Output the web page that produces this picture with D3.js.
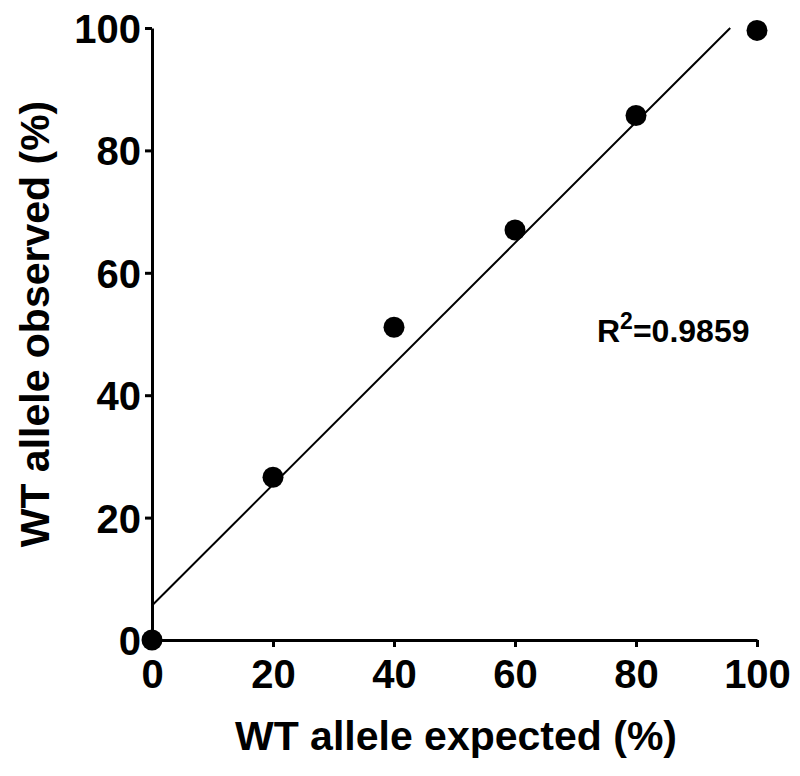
<!DOCTYPE html>
<html>
<head>
<meta charset="utf-8">
<script src="https://cdn.jsdelivr.net/npm/d3@7"></script>
<style>
  html, body { margin: 0; padding: 0; background: #fff; }
  svg { display: block; }
  text { font-family: "Liberation Sans", Arial, sans-serif; font-weight: bold; fill: #000; }
</style>
</head>
<body>
<script>
// Data
const expected = [0, 20, 40, 60, 80, 100];
const observed = [0, 26.6, 51.1, 67.0, 85.7, 99.6];
const xTicks = [0, 20, 40, 60, 80, 100];
const yTicks = [0, 20, 40, 60, 80, 100];
const xTitle = "WT allele expected (%)";
const yTitle = "WT allele observed (%)";
const r2Label = "0.9859";

const W = 800, H = 776;
const m = { left: 152, right: 43, top: 28, bottom: 136 };

const svg = d3.select("body").append("svg").attr("width", W).attr("height", H);

const x = d3.scaleLinear().domain([0, 100]).range([m.left, W - m.right]);
const y = d3.scaleLinear().domain([0, 100]).range([H - m.bottom, m.top]);

// Least-squares fit line, clipped at y = 100
const n = expected.length;
const mx = d3.mean(expected), my = d3.mean(observed);
let sxy = 0, sxx = 0;
for (let i = 0; i < n; i++) { sxy += (expected[i] - mx) * (observed[i] - my); sxx += (expected[i] - mx) ** 2; }
const slope = sxy / sxx, intercept = my - slope * mx;
const xEnd = Math.min(100, (100 - intercept) / slope);

// Axes
const xAxis = d3.axisBottom(x).tickValues(xTicks).tickSize(7).tickSizeOuter(0).tickPadding(10);
const yAxis = d3.axisLeft(y).tickValues(yTicks).tickSize(7).tickSizeOuter(0).tickPadding(4);

const gx = svg.append("g").attr("transform", `translate(0,${y(0)})`).call(xAxis);
const gy = svg.append("g").attr("transform", `translate(${x(0)},0)`).call(yAxis);

[gx, gy].forEach(g => {
  g.select(".domain").attr("stroke", "#000").attr("stroke-width", 3);
  g.selectAll(".tick line").attr("stroke", "#000").attr("stroke-width", 3);
  g.selectAll(".tick text").style("font-size", "40px").attr("fill", "#000")
    .style("font-family", "'Liberation Sans', Arial, sans-serif").style("font-weight", "bold");
});
gx.selectAll(".tick text").attr("dy", "0.78em");
gy.selectAll(".tick text").attr("dy", "0.36em");

// Fit line
svg.append("line")
  .attr("x1", x(0)).attr("y1", y(intercept))
  .attr("x2", x(xEnd)).attr("y2", y(intercept + slope * xEnd))
  .attr("stroke", "#000").attr("stroke-width", 2);

// Points
svg.append("g").selectAll("circle")
  .data(expected.map((e, i) => [e, observed[i]]))
  .join("circle")
  .attr("cx", d => x(d[0])).attr("cy", d => y(d[1]))
  .attr("r", 10.5).attr("fill", "#000");

// Axis titles
svg.append("text")
  .attr("x", 456).attr("y", 750)
  .attr("text-anchor", "middle")
  .style("font-size", "41px")
  .text(xTitle);

svg.append("text")
  .attr("transform", "translate(49,324) rotate(-90)")
  .attr("text-anchor", "middle")
  .style("font-size", "41px")
  .text(yTitle);

// R² annotation
const rt = svg.append("text")
  .attr("x", 597).attr("y", 342)
  .style("font-size", "32px");
rt.append("tspan").text("R");
rt.append("tspan").attr("dy", -13).style("font-size", "23px").text("2");
rt.append("tspan").attr("dy", 13).text("=" + r2Label);
</script>
</body>
</html>
